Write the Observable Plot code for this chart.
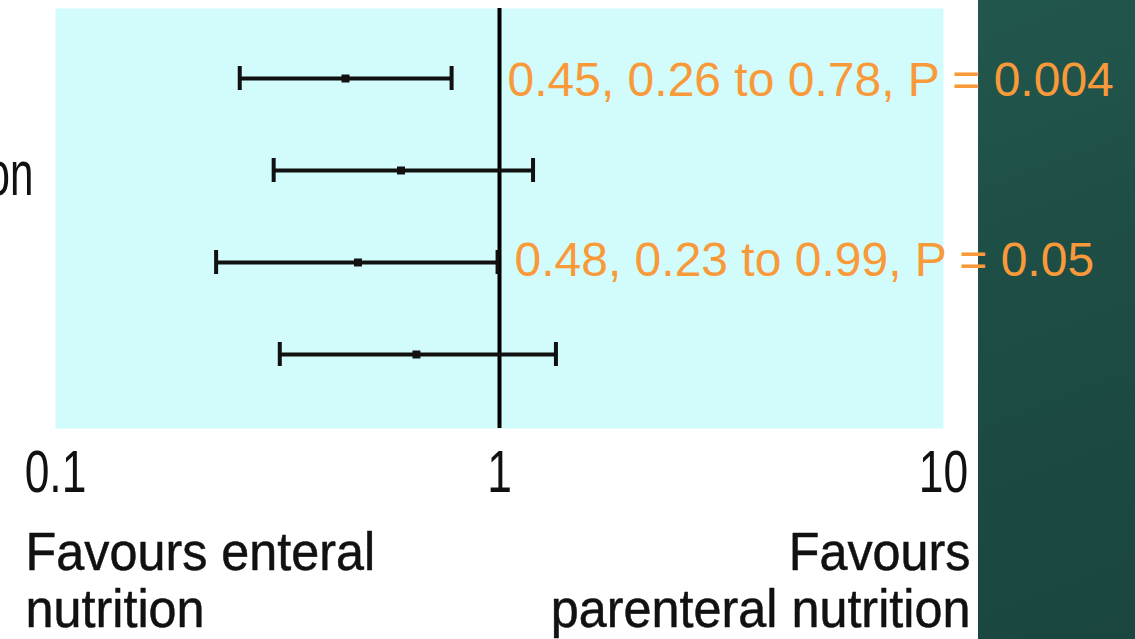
<!DOCTYPE html>
<html>
<head>
<meta charset="utf-8">
<script src="https://cdn.jsdelivr.net/npm/d3@7"></script>
<script src="https://cdn.jsdelivr.net/npm/@observablehq/plot@0.6"></script>
<style>
  html, body { margin: 0; padding: 0; background: #ffffff; }
  #wrap { position: relative; width: 1135px; height: 639px; overflow: hidden; }
  #side { position: absolute; left: 978px; top: 0; width: 157px; height: 639px;
          background: linear-gradient(160deg, #22574d 0%, #1d4d45 45%, #1a463f 100%); }
  #chart { position: absolute; left: 0; top: 0; }
</style>
</head>
<body>
<div id="wrap"><div id="side"></div><div id="chart"></div></div>
<script>
// ---- data ----
const rows = ["1", "2", "3", "4"];
const estimate = [0.45, 0.60, 0.48, 0.65];
const lower = [0.26, 0.31, 0.23, 0.32];
const upper = [0.78, 1.19, 0.99, 1.34];
const rowLabels = ["", "on", "", ""];
const annotations = ["0.45, 0.26 to 0.78, P = 0.004", "", "0.48, 0.23 to 0.99, P = 0.05", ""];
const xTicks = [0.1, 1, 10];
const leftCaption = "Favours enteral\nnutrition";
const rightCaption = "Favours\nparenteral nutrition";

const data = rows.map((r, i) => ({row: r, est: estimate[i], lo: lower[i], hi: upper[i], label: rowLabels[i], note: annotations[i]}));

// condensed look: Liberation Sans squeezed horizontally after rendering
const fontTick = "'Liberation Sans', 'Nimbus Sans', sans-serif";
const fontCaption = "'Liberation Sans', Helvetica, sans-serif";
const fontLabel = "'Liberation Sans', 'Helvetica Neue', sans-serif";
const fontNote = "'Liberation Sans', Arial, sans-serif";
const orange = "#f89a3a";
const ink = "#111";

const chart = Plot.plot({
  width: 1135,
  height: 639,
  marginLeft: 55,
  marginRight: 192,
  marginTop: 8,
  marginBottom: 211,
  style: {background: "transparent", overflow: "visible"},
  x: {type: "log", domain: [0.1, 10], axis: null},
  y: {type: "band", domain: rows, range: [30.67, 401.33], padding: 0, axis: null},
  marks: [
    Plot.frame({fill: "#d2fbfb", stroke: null}),
    Plot.ruleX([1], {stroke: "#000", strokeWidth: 4}),
    Plot.ruleY(data, {y: "row", x1: "lo", x2: "hi", stroke: ink, strokeWidth: 4}),
    Plot.tickX(data, {x: "lo", y: "row", stroke: ink, strokeWidth: 4, insetTop: 34, insetBottom: 34}),
    Plot.tickX(data, {x: "hi", y: "row", stroke: ink, strokeWidth: 4, insetTop: 34, insetBottom: 34}),
    Plot.dot(data, {x: "est", y: "row", r: 4.5, fill: ink, stroke: null, symbol: "square"}),
    Plot.text(data.filter(d => d.label), {x: () => 0.1, y: "row", text: "label", textAnchor: "end", dx: -22, dy: 5,
      fontSize: 62, fontFamily: fontLabel, fill: ink}),
    Plot.text(data.filter((d, i) => i === 0 && d.note), {x: () => 1, y: "row", text: "note", textAnchor: "start", dx: 8, dy: 2,
      fontSize: 48, fontFamily: fontNote, fill: orange}),
    Plot.text(data.filter((d, i) => i === 2 && d.note), {x: () => 1, y: "row", text: "note", textAnchor: "start", dx: 15, dy: -2,
      fontSize: 48, fontFamily: fontNote, fill: orange}),
    Plot.axisX({ticks: xTicks, tickFormat: d => String(d), tickSize: 0, tickPadding: 21, label: null,
      fontSize: 60, fontFamily: fontTick, fill: ink, stroke: ink, strokeWidth: 0.6}),
    Plot.text([leftCaption], {x: () => 0.1, frameAnchor: "bottom", text: d => d, textAnchor: "start", lineAnchor: "top",
      dx: -30, dy: 101, lineHeight: 1.08, fontSize: 53, fontFamily: fontCaption, fill: ink, stroke: ink, strokeWidth: 0.5}),
    Plot.text([rightCaption], {x: () => 10, frameAnchor: "bottom", text: d => d, textAnchor: "end", lineAnchor: "top",
      dx: 27, dy: 101, lineHeight: 1.08, fontSize: 53, fontFamily: fontCaption, fill: ink, stroke: ink, strokeWidth: 0.5})
  ]
});

// squeeze text horizontally around each text's own anchor point
function squeeze(family, sx) {
  d3.select(chart).selectAll("g").filter(function() { return this.getAttribute("font-family") === family; })
    .selectAll("text").each(function() {
      const t = this.getAttribute("transform");
      if (t) {
        this.setAttribute("transform", t + ` scale(${sx},1)`);
      } else {
        const x = +(this.getAttribute("x") || 0), y = +(this.getAttribute("y") || 0);
        this.setAttribute("transform", `translate(${x},${y}) scale(${sx},1) translate(${-x},${-y})`);
      }
    });
}
squeeze(fontTick, 0.74);
squeeze(fontCaption, 0.95);
squeeze(fontLabel, 0.68);

document.getElementById("chart").appendChild(chart);
</script>
</body>
</html>
